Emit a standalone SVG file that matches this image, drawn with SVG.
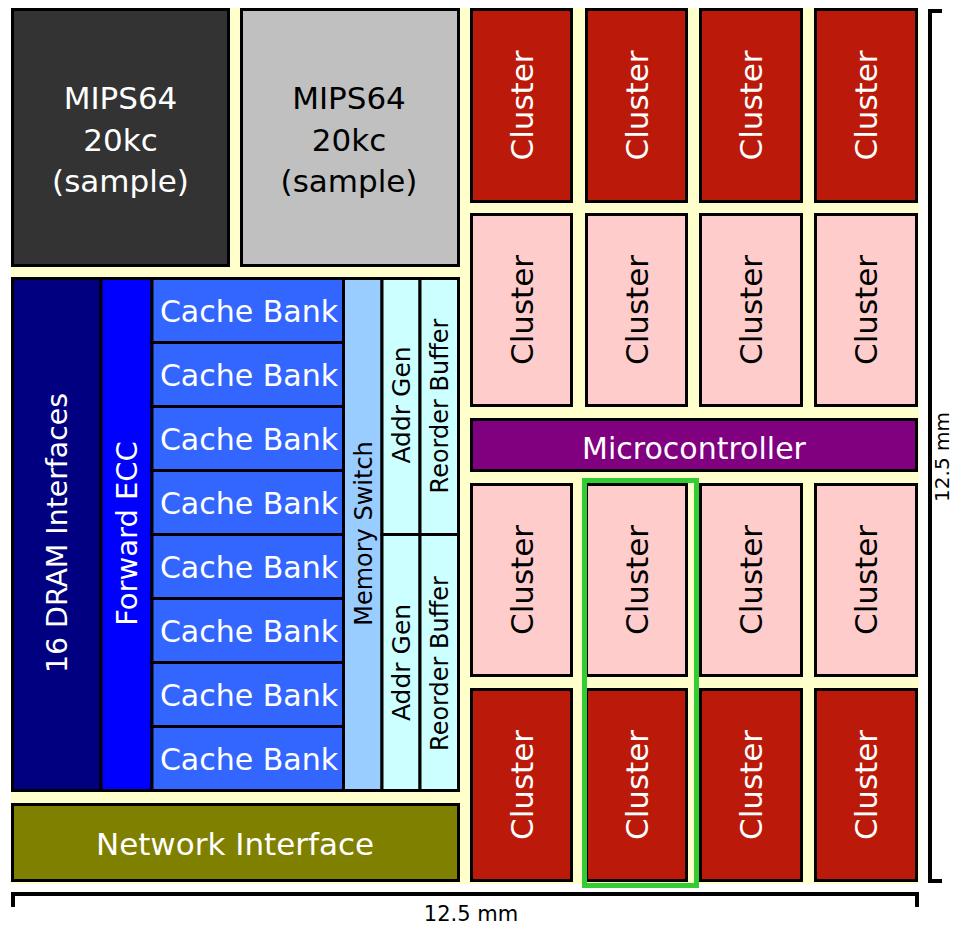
<svg xmlns="http://www.w3.org/2000/svg" width="954" height="925" viewBox="0 0 954 925">
<style>
  .blk { stroke: #000; stroke-width: 3; }
  text { font-family: "DejaVu Sans", "Liberation Sans", sans-serif; text-anchor: middle; }
  .w { fill: #fff; }
  .k { fill: #000; }
  .darkc { fill: #BB1A0A; }
  .pinkc { fill: #FFCCCC; }
  .ct { font-size: 31px; }
  .dim { fill: none; stroke: #000; stroke-width: 4; }
</style>
<rect x="11" y="8" width="908" height="876" fill="#FFFFCC"/>

<g id="mips-dark">
  <rect class="blk" x="12.5" y="9.5" width="216" height="256" fill="#333333"/>
  <text class="w" font-size="31" x="120.5" y="109">MIPS64</text>
  <text class="w" font-size="31" x="120.5" y="151">20kc</text>
  <text class="w" font-size="31" x="120.5" y="192">(sample)</text>
</g>
<g id="mips-grey">
  <rect class="blk" x="241.5" y="9.5" width="217" height="256" fill="#C0C0C0"/>
  <text class="k" font-size="31" x="349" y="109">MIPS64</text>
  <text class="k" font-size="31" x="349" y="151">20kc</text>
  <text class="k" font-size="31" x="349" y="192">(sample)</text>
</g>

<g id="dram">
  <rect class="blk" x="12.5" y="278.5" width="88.5" height="512" fill="#000080"/>
  <text class="w" font-size="28" textLength="280" lengthAdjust="spacingAndGlyphs" transform="translate(67,533) rotate(-90)">16 DRAM Interfaces</text>
</g>
<g id="forward-ecc">
  <rect class="blk" x="101" y="278.5" width="51" height="512" fill="#0000FF"/>
  <text class="w" font-size="29" transform="translate(137,533.5) rotate(-90)">Forward ECC</text>
</g>
<g id="cache-banks">
  <g id="cache-bank-1"><rect class="blk" x="152" y="278.5" width="191.5" height="64" fill="#3366FF"/><text class="w" font-size="30" x="249" y="322">Cache Bank</text></g>
  <g id="cache-bank-2"><rect class="blk" x="152" y="342.5" width="191.5" height="64" fill="#3366FF"/><text class="w" font-size="30" x="249" y="386">Cache Bank</text></g>
  <g id="cache-bank-3"><rect class="blk" x="152" y="406.5" width="191.5" height="64" fill="#3366FF"/><text class="w" font-size="30" x="249" y="450">Cache Bank</text></g>
  <g id="cache-bank-4"><rect class="blk" x="152" y="470.5" width="191.5" height="64" fill="#3366FF"/><text class="w" font-size="30" x="249" y="514">Cache Bank</text></g>
  <g id="cache-bank-5"><rect class="blk" x="152" y="534.5" width="191.5" height="64" fill="#3366FF"/><text class="w" font-size="30" x="249" y="578">Cache Bank</text></g>
  <g id="cache-bank-6"><rect class="blk" x="152" y="598.5" width="191.5" height="64" fill="#3366FF"/><text class="w" font-size="30" x="249" y="642">Cache Bank</text></g>
  <g id="cache-bank-7"><rect class="blk" x="152" y="662.5" width="191.5" height="64" fill="#3366FF"/><text class="w" font-size="30" x="249" y="706">Cache Bank</text></g>
  <g id="cache-bank-8"><rect class="blk" x="152" y="726.5" width="191.5" height="64" fill="#3366FF"/><text class="w" font-size="30" x="249" y="770">Cache Bank</text></g>
</g>
<g id="memory-switch">
  <rect class="blk" x="343.5" y="278.5" width="38.5" height="512" fill="#99CCFF"/>
  <text class="k" font-size="24" transform="translate(372,533.5) rotate(-90)">Memory Switch</text>
</g>
<g id="addr-gen-1">
  <rect class="blk" x="382" y="278.5" width="38" height="256" fill="#CCFFFF"/>
  <text class="k" font-size="25" transform="translate(410,405) rotate(-90)">Addr Gen</text>
</g>
<g id="reorder-buffer-1">
  <rect class="blk" x="420" y="278.5" width="38.5" height="256" fill="#CCFFFF"/>
  <text class="k" font-size="24" transform="translate(448,406) rotate(-90)">Reorder Buffer</text>
</g>
<g id="addr-gen-2">
  <rect class="blk" x="382" y="534.5" width="38" height="256" fill="#CCFFFF"/>
  <text class="k" font-size="25" transform="translate(410,662.5) rotate(-90)">Addr Gen</text>
</g>
<g id="reorder-buffer-2">
  <rect class="blk" x="420" y="534.5" width="38.5" height="256" fill="#CCFFFF"/>
  <text class="k" font-size="24" transform="translate(448,663.5) rotate(-90)">Reorder Buffer</text>
</g>
<g id="network-interface">
  <rect class="blk" x="12.5" y="804.5" width="446" height="76" fill="#808000"/>
  <text class="w" font-size="31" x="235" y="855">Network Interface</text>
</g>

<g id="clusters-row1">
  <g id="cluster-1-1"><rect class="blk darkc" x="471.5" y="9.5" width="100" height="192"/><text class="w ct" transform="translate(533,105.5) rotate(-90)">Cluster</text></g>
  <g id="cluster-1-2"><rect class="blk darkc" x="586.5" y="9.5" width="100" height="192"/><text class="w ct" transform="translate(648,105.5) rotate(-90)">Cluster</text></g>
  <g id="cluster-1-3"><rect class="blk darkc" x="700.5" y="9.5" width="101" height="192"/><text class="w ct" transform="translate(762,105.5) rotate(-90)">Cluster</text></g>
  <g id="cluster-1-4"><rect class="blk darkc" x="815.5" y="9.5" width="101" height="192"/><text class="w ct" transform="translate(877,105.5) rotate(-90)">Cluster</text></g>
</g>
<g id="clusters-row2">
  <g id="cluster-2-1"><rect class="blk pinkc" x="471.5" y="214.5" width="100" height="191"/><text class="k ct" transform="translate(533,310) rotate(-90)">Cluster</text></g>
  <g id="cluster-2-2"><rect class="blk pinkc" x="586.5" y="214.5" width="100" height="191"/><text class="k ct" transform="translate(648,310) rotate(-90)">Cluster</text></g>
  <g id="cluster-2-3"><rect class="blk pinkc" x="700.5" y="214.5" width="101" height="191"/><text class="k ct" transform="translate(762,310) rotate(-90)">Cluster</text></g>
  <g id="cluster-2-4"><rect class="blk pinkc" x="815.5" y="214.5" width="101" height="191"/><text class="k ct" transform="translate(877,310) rotate(-90)">Cluster</text></g>
</g>
<g id="microcontroller">
  <rect class="blk" x="471.5" y="419.5" width="445" height="51" fill="#800080"/>
  <text class="w" font-size="30" x="694" y="459">Microcontroller</text>
</g>
<g id="clusters-row3">
  <g id="cluster-3-1"><rect class="blk pinkc" x="471.5" y="484.5" width="100" height="191"/><text class="k ct" transform="translate(533,580) rotate(-90)">Cluster</text></g>
  <g id="cluster-3-2"><rect class="blk pinkc" x="586.5" y="484.5" width="100" height="191"/><text class="k ct" transform="translate(648,580) rotate(-90)">Cluster</text></g>
  <g id="cluster-3-3"><rect class="blk pinkc" x="700.5" y="484.5" width="101" height="191"/><text class="k ct" transform="translate(762,580) rotate(-90)">Cluster</text></g>
  <g id="cluster-3-4"><rect class="blk pinkc" x="815.5" y="484.5" width="101" height="191"/><text class="k ct" transform="translate(877,580) rotate(-90)">Cluster</text></g>
</g>
<g id="clusters-row4">
  <g id="cluster-4-1"><rect class="blk darkc" x="471.5" y="689.5" width="100" height="191"/><text class="w ct" transform="translate(533,785) rotate(-90)">Cluster</text></g>
  <g id="cluster-4-2"><rect class="blk darkc" x="586.5" y="689.5" width="100" height="191"/><text class="w ct" transform="translate(648,785) rotate(-90)">Cluster</text></g>
  <g id="cluster-4-3"><rect class="blk darkc" x="700.5" y="689.5" width="101" height="191"/><text class="w ct" transform="translate(762,785) rotate(-90)">Cluster</text></g>
  <g id="cluster-4-4"><rect class="blk darkc" x="815.5" y="689.5" width="101" height="191"/><text class="w ct" transform="translate(877,785) rotate(-90)">Cluster</text></g>
</g>

<g id="highlight">
  <rect x="584.5" y="480.5" width="112" height="405" fill="none" stroke="#33CC33" stroke-width="5"/>
</g>

<g id="dimensions">
  <path class="dim" d="M13,907 V894 H917 V907"/>
  <text class="k" font-size="21" x="471" y="921">12.5 mm</text>
  <path class="dim" d="M942,11 H930 V881 H942"/>
  <text class="k" font-size="20" transform="translate(949,457) rotate(-90)">12.5 mm</text>
</g>
</svg>
